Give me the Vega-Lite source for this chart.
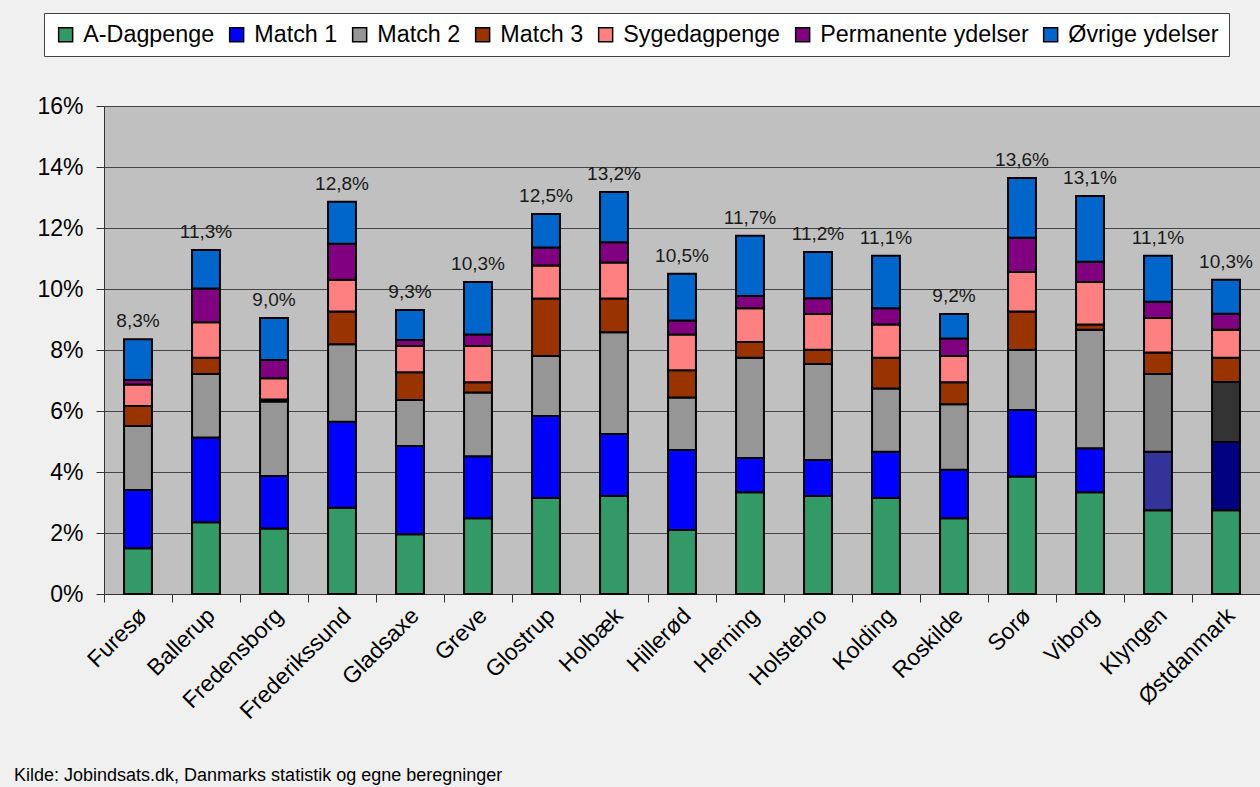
{
  "$schema": "https://vega.github.io/schema/vega-lite/v6.json",
  "autosize": "none",
  "width": 1156,
  "height": 488,
  "padding": {"left": 104, "top": 106, "right": 0, "bottom": 193},
  "background": "#f0f0f0",
  "config": {
    "font": "Liberation Sans",
    "view": {"fill": "#c0c0c0", "stroke": null},
    "axis": {"labelColor": "#000", "labelFont": "Liberation Sans", "labelFontSize": 23, "domainColor": "#333", "tickColor": "#333", "tickSize": 8, "title": null}
  },
  "title": {
    "text": "Kilde: Jobindsats.dk, Danmarks statistik og egne beregninger",
    "orient": "bottom",
    "anchor": "start",
    "frame": "group",
    "dx": -90,
    "offset": 44,
    "fontSize": 18,
    "fontWeight": "normal",
    "color": "#000",
    "font": "Liberation Sans"
  },
  "data": {
    "values": [
      {"omraade": "Furesø", "A-Dagpenge": 1.50, "Match 1": 1.91, "Match 2": 2.10, "Match 3": 0.65, "Sygedagpenge": 0.71, "Permanente ydelser": 0.15, "Øvrige ydelser": 1.33, "total": 8.3},
      {"omraade": "Ballerup", "A-Dagpenge": 2.35, "Match 1": 2.78, "Match 2": 2.08, "Match 3": 0.54, "Sygedagpenge": 1.16, "Permanente ydelser": 1.11, "Øvrige ydelser": 1.26, "total": 11.3},
      {"omraade": "Fredensborg", "A-Dagpenge": 2.15, "Match 1": 1.72, "Match 2": 2.44, "Match 3": 0.07, "Sygedagpenge": 0.69, "Permanente ydelser": 0.60, "Øvrige ydelser": 1.38, "total": 9.0},
      {"omraade": "Frederikssund", "A-Dagpenge": 2.83, "Match 1": 2.82, "Match 2": 2.54, "Match 3": 1.07, "Sygedagpenge": 1.04, "Permanente ydelser": 1.18, "Øvrige ydelser": 1.38, "total": 12.8},
      {"omraade": "Gladsaxe", "A-Dagpenge": 1.96, "Match 1": 2.89, "Match 2": 1.51, "Match 3": 0.91, "Sygedagpenge": 0.86, "Permanente ydelser": 0.20, "Øvrige ydelser": 0.98, "total": 9.3},
      {"omraade": "Greve", "A-Dagpenge": 2.48, "Match 1": 2.04, "Match 2": 2.09, "Match 3": 0.33, "Sygedagpenge": 1.19, "Permanente ydelser": 0.38, "Øvrige ydelser": 1.72, "total": 10.3},
      {"omraade": "Glostrup", "A-Dagpenge": 3.15, "Match 1": 2.69, "Match 2": 1.96, "Match 3": 1.89, "Sygedagpenge": 1.08, "Permanente ydelser": 0.59, "Øvrige ydelser": 1.10, "total": 12.5},
      {"omraade": "Holbæk", "A-Dagpenge": 3.21, "Match 1": 2.04, "Match 2": 3.33, "Match 3": 1.11, "Sygedagpenge": 1.18, "Permanente ydelser": 0.66, "Øvrige ydelser": 1.65, "total": 13.2},
      {"omraade": "Hillerød", "A-Dagpenge": 2.10, "Match 1": 2.62, "Match 2": 1.72, "Match 3": 0.90, "Sygedagpenge": 1.17, "Permanente ydelser": 0.46, "Øvrige ydelser": 1.53, "total": 10.5},
      {"omraade": "Herning", "A-Dagpenge": 3.34, "Match 1": 1.12, "Match 2": 3.29, "Match 3": 0.51, "Sygedagpenge": 1.11, "Permanente ydelser": 0.40, "Øvrige ydelser": 1.98, "total": 11.7},
      {"omraade": "Holstebro", "A-Dagpenge": 3.21, "Match 1": 1.18, "Match 2": 3.15, "Match 3": 0.47, "Sygedagpenge": 1.17, "Permanente ydelser": 0.52, "Øvrige ydelser": 1.51, "total": 11.2},
      {"omraade": "Kolding", "A-Dagpenge": 3.15, "Match 1": 1.51, "Match 2": 2.08, "Match 3": 1.01, "Sygedagpenge": 1.09, "Permanente ydelser": 0.53, "Øvrige ydelser": 1.72, "total": 11.1},
      {"omraade": "Roskilde", "A-Dagpenge": 2.48, "Match 1": 1.59, "Match 2": 2.15, "Match 3": 0.72, "Sygedagpenge": 0.86, "Permanente ydelser": 0.58, "Øvrige ydelser": 0.80, "total": 9.2},
      {"omraade": "Sorø", "A-Dagpenge": 3.85, "Match 1": 2.18, "Match 2": 1.97, "Match 3": 1.26, "Sygedagpenge": 1.30, "Permanente ydelser": 1.12, "Øvrige ydelser": 1.96, "total": 13.6},
      {"omraade": "Viborg", "A-Dagpenge": 3.34, "Match 1": 1.44, "Match 2": 3.88, "Match 3": 0.18, "Sygedagpenge": 1.39, "Permanente ydelser": 0.66, "Øvrige ydelser": 2.16, "total": 13.1},
      {"omraade": "Klyngen", "A-Dagpenge": 2.75, "Match 1": 1.91, "Match 2": 2.55, "Match 3": 0.71, "Sygedagpenge": 1.13, "Permanente ydelser": 0.53, "Øvrige ydelser": 1.51, "total": 11.1},
      {"omraade": "Østdanmark", "A-Dagpenge": 2.75, "Match 1": 2.23, "Match 2": 1.97, "Match 3": 0.80, "Sygedagpenge": 0.91, "Permanente ydelser": 0.53, "Øvrige ydelser": 1.11, "total": 10.3}
    ]
  },
  "transform": [
    {"fold": ["A-Dagpenge", "Match 1", "Match 2", "Match 3", "Sygedagpenge", "Permanente ydelser", "Øvrige ydelser"], "as": ["serie", "andel"]},
    {"calculate": "indexof(['A-Dagpenge','Match 1','Match 2','Match 3','Sygedagpenge','Permanente ydelser','Øvrige ydelser'], datum.serie)", "as": "nr"},
    {"calculate": "(datum.omraade == 'Klyngen' || datum.omraade == 'Østdanmark') && (datum.serie == 'Match 1' || datum.serie == 'Match 2') ? datum.serie + ' ' + datum.omraade : datum.serie", "as": "farve"}
  ],
  "encoding": {
    "x": {
      "field": "omraade",
      "type": "nominal",
      "sort": null,
      "scale": {"paddingInner": 0, "paddingOuter": 0},
      "axis": {"labelAngle": -45, "labelAlign": "right", "labelBaseline": "top", "labelPadding": 2, "labelOffset": -3, "tickBand": "extent", "grid": false}
    }
  },
  "layer": [
    {
      "mark": {"type": "bar", "width": {"band": 0.41}, "stroke": "#000", "strokeWidth": 2},
      "encoding": {
        "y": {
          "field": "andel",
          "type": "quantitative",
          "stack": "zero",
          "scale": {"domain": [0, 16], "nice": false},
          "axis": {"values": [0, 2, 4, 6, 8, 10, 12, 14, 16], "labelExpr": "datum.value + '%'", "grid": true, "gridColor": "#444", "gridWidth": 1, "labelPadding": 13}
        },
        "order": {"field": "nr", "type": "quantitative"},
        "color": {
          "field": "farve",
          "type": "nominal",
          "scale": {
            "domain": ["A-Dagpenge", "Match 1", "Match 2", "Match 3", "Sygedagpenge", "Permanente ydelser", "Øvrige ydelser", "Match 1 Klyngen", "Match 2 Klyngen", "Match 1 Østdanmark", "Match 2 Østdanmark"],
            "range": ["#339966", "#0000ff", "#969696", "#993300", "#ff8080", "#800080", "#0066cc", "#333399", "#808080", "#000080", "#333333"]
          },
          "legend": {
            "values": ["A-Dagpenge", "Match 1", "Match 2", "Match 3", "Sygedagpenge", "Permanente ydelser", "Øvrige ydelser"],
            "orient": "none",
            "legendX": -60,
            "legendY": -93,
            "direction": "horizontal",
            "title": null,
            "symbolType": "square",
            "symbolSize": 196,
            "symbolStrokeColor": "#000",
            "symbolStrokeWidth": 1.5,
            "labelFontSize": 23.3,
            "labelFont": "Liberation Sans",
            "labelColor": "#000",
            "labelLimit": 400,
            "labelOffset": 6,
            "columnPadding": 10,
            "padding": 10,
            "fillColor": "#ffffff",
            "strokeColor": "#444"
          }
        }
      }
    },
    {
      "transform": [
        {"aggregate": [{"op": "sum", "field": "andel", "as": "top"}, {"op": "max", "field": "total", "as": "tot"}], "groupby": ["omraade"]},
        {"calculate": "replace(format(datum.tot, '.1f'), '.', ',') + '%'", "as": "etiket"}
      ],
      "mark": {"type": "text", "baseline": "alphabetic", "dy": -12, "fontSize": 19, "font": "Liberation Sans Narrow, Liberation Sans", "color": "#1a1a1a"},
      "encoding": {
        "y": {"field": "top", "type": "quantitative"},
        "text": {"field": "etiket"}
      }
    }
  ]
}
